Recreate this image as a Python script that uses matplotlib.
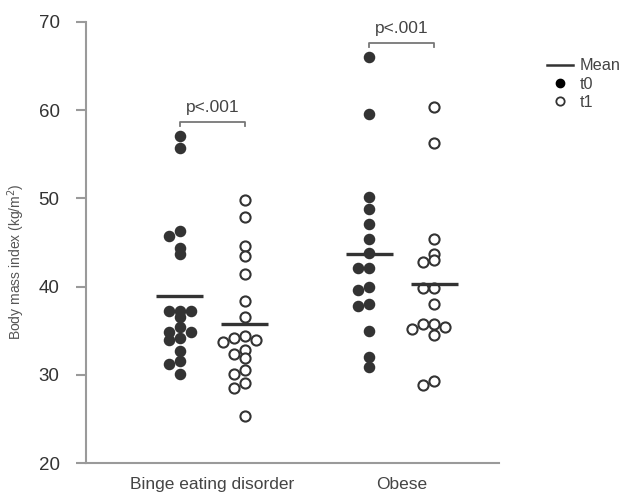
import numpy as np
import matplotlib
matplotlib.use("Agg")
import matplotlib.pyplot as plt
from matplotlib.lines import Line2D

plt.rcParams["font.family"] = ["Liberation Sans", "DejaVu Sans"]

categories = ["Binge eating disorder", "Obese"]
bed_t0 = [57.1, 55.7, 46.25, 45.7, 44.4, 43.7, 37.2, 37.2, 37.2, 36.5, 35.4,
          34.8, 34.8, 34.2, 33.9, 32.7, 31.6, 31.2, 30.1]
bed_t1 = [49.8, 47.9, 44.6, 43.5, 41.4, 38.4, 36.5, 34.4, 34.2, 33.9, 33.75,
          32.8, 32.35, 31.9, 30.6, 30.1, 29.1, 28.45, 25.3]
ob_t0 = [66.06, 59.55, 50.2, 48.8, 47.1, 45.4, 43.8, 42.1, 42.1, 39.9, 39.6,
         38.0, 37.8, 35.0, 32.0, 30.9]
ob_t1 = [60.4, 56.3, 45.4, 43.7, 43.0, 42.8, 39.85, 39.85, 38.0, 35.8, 35.8,
         35.4, 35.15, 34.55, 29.25, 28.8]
p_labels = ["p<.001", "p<.001"]
yticks = [20, 30, 40, 50, 60, 70]

W, H = 626, 497
fig = plt.figure(figsize=(W / 100, H / 100), dpi=100)
L, R, T, B = 86, 499, 22, 463
ax = fig.add_axes([L / W, (H - B) / H, (R - L) / W, (B - T) / H])
xlim = (-0.6675, 1.512)
ylim = (20, 70)
ax.set_xlim(*xlim)
ax.set_ylim(*ylim)

px_per_x = (R - L) / (xlim[1] - xlim[0])
px_per_y = (B - T) / (ylim[1] - ylim[0])

dark = "#333333"
spine_c = "#9a9a9a"
marker_d = 10.5  # px
step_px = 11.0


def swarm(vals, center):
    order = np.argsort(vals)[::-1]
    placed = []
    xs = np.zeros(len(vals))
    for i in order:
        v = vals[i]
        for k in [0, -1, 1, -2, 2, -3, 3]:
            xp = k * step_px
            yp = v * px_per_y
            ok = True
            for (qx, qy) in placed:
                if np.hypot(xp - qx, yp - qy) < marker_d * 0.55:
                    ok = False
                    break
            if ok:
                placed.append((xp, yp))
                xs[i] = center + xp / px_per_x
                break
    return xs


off = 0.1715
series = [(bed_t0, 0 - off, True), (bed_t1, 0 + off, False),
          (ob_t0, 1 - off, True), (ob_t1, 1 + off, False)]
ms = 7.3
for vals, cx, filled in series:
    vals = np.array(vals)
    xs = swarm(vals, cx)
    if filled:
        ax.plot(xs, vals, "o", ms=ms, mfc=dark, mec=dark, mew=1.0, ls="none", zorder=3)
    else:
        ax.plot(xs, vals, "o", ms=ms, mfc="white", mec=dark, mew=1.5, ls="none", zorder=3)
    m = vals.mean()
    hw = 23.5 / px_per_x
    ax.plot([cx - hw, cx + hw], [m, m], color=dark, lw=2.4, zorder=4, solid_capstyle="butt")

# significance brackets
for ci, p in enumerate(p_labels):
    top = max(max(series[2 * ci][0]), max(series[2 * ci + 1][0]))
    yb = top + 1.6
    x0, x1 = ci - off, ci + off
    tick = 4 / px_per_y
    ax.plot([x0, x0, x1, x1], [yb - tick, yb, yb, yb - tick], color="#777777", lw=1.3,
            clip_on=False)
    ax.text(ci, yb + 0.8, p, ha="center", va="bottom", fontsize=12.5, color="#444444")

for s in ["top", "right"]:
    ax.spines[s].set_visible(False)
for s in ["left", "bottom"]:
    ax.spines[s].set_color(spine_c)
    ax.spines[s].set_linewidth(1.5)
ax.set_yticks(yticks)
ax.set_yticklabels([str(t) for t in yticks])
ax.tick_params(axis="y", length=7, width=1.5, color=spine_c, labelsize=13.5,
               labelcolor="#333333", pad=12)
ax.set_xticks([0, 1])
ax.set_xticklabels(categories)
ax.tick_params(axis="x", length=0, labelsize=12.5, labelcolor="#444444", pad=10)
ax.set_ylabel("Body mass index (kg/m$^2$)", fontsize=10, color="#555555")
ax.yaxis.set_label_coords((27 - L) / (R - L), (B - 262) / (B - T))

handles = [Line2D([], [], color=dark, lw=1.8),
           Line2D([], [], ls="none", marker="o", ms=6, mfc="black", mec="black"),
           Line2D([], [], ls="none", marker="o", ms=6, mfc="white", mec=dark, mew=1.3)]
ax.legend(handles, ["Mean", "t0", "t1"], loc="upper left",
          bbox_to_anchor=((540 - L) / (R - L), (B - 52) / (B - T)),
          frameon=False, fontsize=11.7, handlelength=1.66, handletextpad=0.4,
          labelspacing=0.2, borderaxespad=0, labelcolor="#444444")

fig.savefig("out.png", dpi=100)
